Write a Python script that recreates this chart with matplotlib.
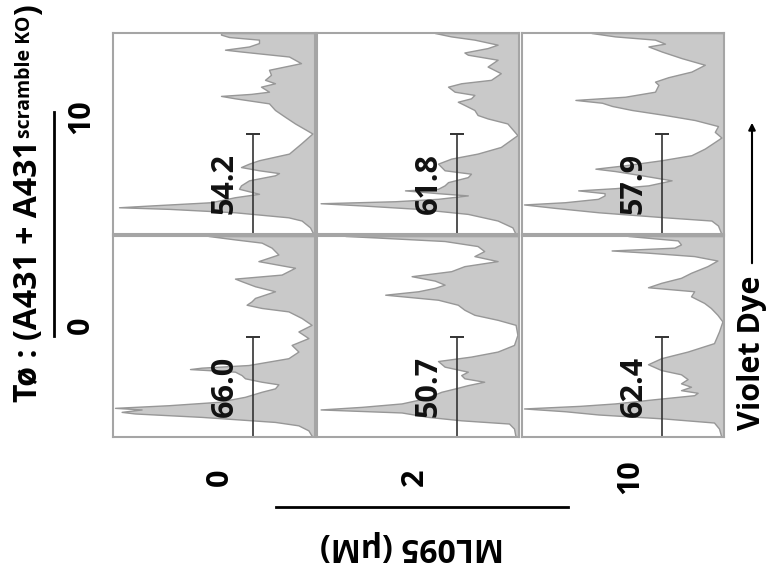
import matplotlib.pyplot as plt
from matplotlib.lines import Line2D
from matplotlib.patches import FancyArrowPatch

plt.rcParams['font.family'] = ['Open Sans', 'DejaVu Sans']

# column / row categories
ml095_doses = ['0', '2', '10']
t_ratio = ['10', '0']  # top row, bottom row
gate_pct = [[54.2, 61.8, 57.9],
            [66.0, 50.7, 62.4]]
gate_range = [0, 50]  # violet dye gate, same in every panel

# violet dye channel (0-100, low to high) and % of modal count
# T0 ratio 10, ML095 0
dye_10_0 = [0, 3.3, 6.7, 8.3, 10.8, 12.5, 13.3, 14.2, 15.8, 18.3, 20, 22.5, 24.2, 26.7, 29.2, 30.3,
            31.7, 33.3, 35, 36.7, 40, 45, 50, 55, 58.3, 61.7, 65, 67.5, 68.7, 69.7, 70.8, 73.3, 75,
            76.7, 79.2, 81.7, 85, 88.3, 90.8, 91.7, 93.3, 95, 96.7, 98, 99.2, 100]
cnt_10_0 = [0.8, 2.5, 6.7, 13.3, 40, 73, 98, 82, 52, 40, 28, 38, 37, 33, 20, 18,
            28, 37, 33, 28, 13, 7, 1.3, 10, 15, 20, 23, 40, 47, 32, 23, 27, 20,
            25, 22, 23, 7, 13, 37, 45, 33, 28, 28, 43, 47, 47]
# T0 ratio 10, ML095 2
dye_10_2 = [0, 3.3, 6.7, 10, 12.5, 14.2, 15.3, 16.3, 17.5, 19.2, 20.3, 21.7, 22.5, 24.2, 25.8, 28.3,
            30, 31.7, 33.3, 35, 37.5, 40, 43.3, 49.2, 55, 57.5, 59.2, 61.7, 64.2, 65.8, 67.5, 69.2,
            70.8, 73.3, 75, 76.7, 80, 83.3, 86.7, 89.2, 90.3, 92.5, 94.2, 96.7, 98.3, 100]
cnt_10_2 = [1.7, 3.3, 10.7, 25.6, 50.4, 78.5, 99.2, 62, 40.5, 25.6, 40.5, 57, 40.5, 37.2, 35.5, 25.6,
            24, 37.2, 38.8, 40.5, 33.9, 20.7, 9.1, 0.8, 5.8, 15.7, 20.7, 22.3, 27.3, 30.6, 24, 22.3,
            32.2, 35.5, 28.9, 14, 9.1, 15.7, 10.7, 25.6, 27.3, 15.7, 10.7, 22.3, 33.9, 42.1]
# T0 ratio 10, ML095 10
dye_10_10 = [0, 4.2, 6.7, 8.3, 10.8, 13, 14.7, 15.8, 17.5, 19.2, 20.3, 21.7, 22.8, 24.2, 26.7, 29.2,
             31.3, 32.5, 34.2, 36.7, 39.2, 42.5, 45.8, 48, 50.8, 53.7, 56.7, 59.2, 61.7, 63.7, 65.3,
             66.7, 68.3, 70.8, 74.2, 75.8, 78, 80.8, 84.2, 87.5, 90.8, 93.3, 94.7, 96.7, 98.3, 100]
cnt_10_10 = [1.3, 3, 6.3, 29.5, 62.7, 84.6, 100, 79.6, 63, 59.7, 59.7, 72.9, 54.4, 37.8, 26.2, 41.1,
             54.4, 64.3, 49.4, 31.2, 16.3, 9.6, 4.6, 1.3, 4.6, 3, 14.6, 29.5, 46.1, 56, 61,
             74.3, 49.4, 34.5, 32.8, 34.5, 27.9, 16.3, 9.6, 21.2, 31.2, 37.8, 29.5, 34.5, 54.4, 66.3]
# T0 ratio 0, ML095 0
dye_0_0 = [0, 3.3, 5.8, 7.5, 8.3, 10, 11.7, 12.5, 13.7, 14.5, 15.8, 17.5, 20, 22.5, 24.2, 26.2,
           27.5, 29.2, 30.8, 32.5, 33.8, 34.5, 35.8, 39.2, 42.5, 45.8, 49.2, 52.5, 55.8, 59.2, 62.5,
           64.2, 65.8, 67.5, 69.2, 72.5, 75, 77.5, 78.8, 80.8, 84.2, 87.5, 90.8, 94.2, 96.7, 98.3, 100]
cnt_0_0 = [1.3, 3.3, 8.3, 20, 31.7, 56.7, 90, 96.7, 86.7, 100, 73.3, 48.3, 35, 26.7, 20, 18.3,
           26.7, 35, 36.7, 40, 62.5, 56.7, 33.3, 13.3, 8.3, 11.7, 3.3, 8.3, 1.7, 6.7, 13.3,
           26.7, 34.2, 31.7, 30, 20, 30, 36.7, 40, 16.7, 10, 28.3, 18.3, 21.7, 26.7, 40, 53.3]
# T0 ratio 0, ML095 2
dye_0_2 = [0, 4.2, 6.7, 8.3, 10, 12.2, 13.7, 15, 16.7, 19.2, 22.5, 24.5, 25.8, 27.5, 29.2, 30.8,
           32.5, 35, 37.8, 40, 42.5, 45.8, 50.8, 55.8, 58.3, 60.8, 63.3, 65.8, 68.3, 70.8, 72.5,
           74.2, 75.8, 77.8, 80, 82.5, 85, 87.5, 90, 92.5, 95, 97.5, 99.2, 100]
cnt_0_2 = [1.7, 2.5, 5, 28.9, 45.5, 58.7, 99.2, 78.5, 58.7, 47.1, 38.8, 30.6, 25.6, 17.4, 27.3, 28.9,
           25.6, 37.2, 40.5, 24, 10.7, 2.5, 0.8, 1.7, 10.7, 22.3, 27.3, 30.6, 40.5, 66.9, 50.4,
           42.1, 37.2, 42.1, 53.7, 33.9, 27.3, 10.7, 22.3, 17.4, 20.7, 37.2, 70.2, 86.8]
# T0 ratio 0, ML095 10
dye_0_10 = [0, 4.2, 7.2, 9.2, 11.2, 12.8, 14.2, 15.5, 16.7, 18.8, 20.8, 22, 23.3, 25, 26.7, 28.8,
            31.2, 33.3, 36.2, 39.2, 42.5, 46.7, 52.5, 57.5, 60.8, 64.2, 66.7, 70, 72.5, 74.5, 76.7,
            79.2, 81.7, 85, 87.8, 90, 91.7, 92.8, 94.2, 95.8, 97.8, 100]
cnt_0_10 = [1.3, 2.5, 5, 29.8, 62.8, 79.3, 100, 71.9, 54.5, 34.7, 14.9, 13.2, 21.5, 16.5, 21.5, 18.2,
            21.5, 31.4, 38, 31.4, 18.2, 5, 2.5, 0.8, 3.3, 6.6, 9.9, 16.5, 14.9, 38, 31.4,
            21.5, 16.5, 8.3, 3.3, 14.9, 38, 56.2, 24.8, 21.5, 23.1, 47.9]

hists = [[(dye_10_0, cnt_10_0), (dye_10_2, cnt_10_2), (dye_10_10, cnt_10_10)],
         [(dye_0_0, cnt_0_0), (dye_0_2, cnt_0_2), (dye_0_10, cnt_0_10)]]

W, H = 769, 575
fig = plt.figure(figsize=(W / 100, H / 100), dpi=100)


def fx(x):
    return x / W


def fy(y):
    return 1 - y / H


col_left = [113, 317, 522]
row_top = [33, 236]
pw, ph = 202, 201

for r in range(2):
    for c in range(3):
        ax = fig.add_axes([fx(col_left[c]), fy(row_top[r] + ph), pw / W, ph / H])
        dye, cnt = hists[r][c]
        ax.fill_betweenx(dye, 0, cnt, facecolor='#c9c9c9', edgecolor='#979797', lw=1)
        ax.set_xlim(101, 0)
        ax.set_ylim(0, 100)
        ax.set_xticks([])
        ax.set_yticks([])
        for s in ax.spines.values():
            s.set_color('#a5a5a5')
            s.set_linewidth(1.5)
        mid = (gate_range[0] + gate_range[1]) / 2
        eb = ax.errorbar(31, mid, yerr=mid - gate_range[0], fmt='none', ecolor='#333333',
                         elinewidth=1.2, capsize=5, capthick=1.4)
        for art in eb.lines[1] + eb.lines[2]:
            art.set_clip_on(False)
        ax.text(45, 25, f'{gate_pct[r][c]:.1f}', rotation=90, ha='center', va='center',
                fontsize=22, fontweight='bold', color='#111111')

# row labels (T0 ratio)
fig.add_artist(Line2D([fx(54), fx(54)], [fy(112), fy(336)], color='black', lw=2))
fig.text(fx(81), fy(117), t_ratio[0], rotation=90, ha='center', va='center',
         fontsize=22, fontweight='bold')
fig.text(fx(81), fy(325), t_ratio[1], rotation=90, ha='center', va='center',
         fontsize=22, fontweight='bold')

# title built in pieces so the superscript can be smaller
t1 = fig.text(fx(37), fy(402), 'Tø : (A431 + A431', rotation=90, rotation_mode='anchor',
              ha='left', va='baseline', fontsize=23, fontweight='bold')
fig.canvas.draw()
rend = fig.canvas.get_renderer()
top = t1.get_window_extent(rend).y1
t2 = fig.text(fx(30), (top + 2) / H, 'scramble KO', rotation=90, rotation_mode='anchor',
              ha='left', va='baseline', fontsize=14, fontweight='bold')
top2 = t2.get_window_extent(rend).y1
fig.text(fx(37), (top2 + 1) / H, ')', rotation=90, rotation_mode='anchor',
         ha='left', va='baseline', fontsize=23, fontweight='bold')

# column labels (ML095 dose)
for xc, lab in zip([220, 415, 630], ml095_doses):
    fig.text(fx(xc), fy(477), lab, rotation=90, ha='center', va='center',
             fontsize=22, fontweight='bold')
fig.add_artist(Line2D([fx(276), fx(568)], [fy(507), fy(507)], color='black', lw=2))
fig.text(fx(412), fy(546), 'ML095 (μM)', rotation=180, ha='center', va='center',
         fontsize=23, fontweight='bold')

# violet dye axis
fig.text(fx(760), fy(430), 'Violet Dye', rotation=90, rotation_mode='anchor',
         ha='left', va='baseline', fontsize=22, fontweight='bold')
fig.add_artist(FancyArrowPatch((fx(752), fy(266)), (fx(752), fy(120)),
                               transform=fig.transFigure, arrowstyle='-|>',
                               mutation_scale=10, lw=1.5, color='black'))

fig.savefig('out.png', dpi=100)
